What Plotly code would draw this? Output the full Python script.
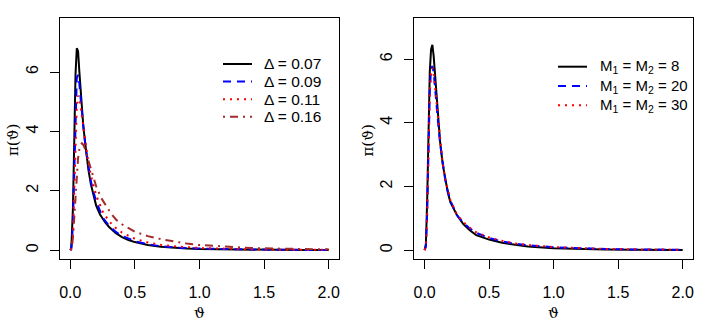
import plotly.graph_objects as go

# ---- data (theta grid and density values) ----
# left panel: different Delta values
theta_a = [0, 0.005, 0.01, 0.015, 0.02, 0.03, 0.04, 0.05, 0.06, 0.07, 0.08, 0.09, 0.10, 0.11, 0.12,
           0.14, 0.16, 0.18, 0.20, 0.23, 0.27, 0.30, 0.35, 0.40, 0.45, 0.50, 0.60, 0.70, 0.80, 0.90,
           1.0, 1.2, 1.4, 1.6, 1.8, 2.0]
dens_d007 = [0, 0.02, 0.3, 0.8, 1.4, 3.6, 5.9, 6.8, 6.7, 6.0, 5.3, 4.7, 4.2, 3.8, 3.4,
             2.7, 2.2, 1.8, 1.5, 1.2, 0.93, 0.78, 0.58, 0.44, 0.34, 0.27, 0.17, 0.11, 0.075, 0.05,
             0.035, 0.02, 0.012, 0.008, 0.005, 0.003]

theta_b = [0, 0.01, 0.02, 0.03, 0.04, 0.05, 0.06, 0.07, 0.08, 0.09, 0.10, 0.12, 0.14, 0.16, 0.18,
           0.20, 0.25, 0.30, 0.35, 0.40, 0.50, 0.60, 0.70, 0.80, 1.0, 1.2, 1.4, 1.6, 1.8, 2.0]
dens_d009 = [0, 0.1, 0.9, 2.9, 4.9, 5.8, 5.9, 5.6, 5.1, 4.6, 4.2, 3.4, 2.8, 2.3, 1.95,
             1.65, 1.1, 0.82, 0.62, 0.48, 0.3, 0.2, 0.13, 0.09, 0.05, 0.03, 0.018, 0.011, 0.007, 0.005]
dens_d011 = [0, 0.05, 0.5, 1.9, 3.7, 4.8, 5.2, 5.1, 4.8, 4.5, 4.2, 3.5, 2.95, 2.5, 2.15,
             1.85, 1.3, 0.97, 0.75, 0.59, 0.38, 0.26, 0.18, 0.13, 0.07, 0.04, 0.025, 0.016, 0.01, 0.007]

theta_c = [0, 0.01, 0.02, 0.03, 0.04, 0.05, 0.06, 0.07, 0.08, 0.09, 0.10, 0.11, 0.12, 0.14, 0.16,
           0.18, 0.20, 0.24, 0.28, 0.32, 0.36, 0.40, 0.50, 0.60, 0.70, 0.80, 0.90, 1.0, 1.2, 1.4,
           1.6, 1.8, 2.0]
dens_d016 = [0, 0.05, 0.4, 1.1, 1.9, 2.6, 3.1, 3.4, 3.55, 3.6, 3.55, 3.45, 3.3, 3.0, 2.7,
             2.4, 2.15, 1.75, 1.45, 1.2, 1.0, 0.87, 0.62, 0.47, 0.37, 0.29, 0.22, 0.17, 0.11, 0.07,
             0.05, 0.035, 0.025]

# right panel: different M1 = M2
theta_r = theta_b
dens_m8 = [0, 0.2, 1.6, 3.8, 5.6, 6.3, 6.45, 6.1, 5.5, 4.9, 4.3, 3.4, 2.7, 2.2, 1.8,
           1.5, 1.1, 0.82, 0.62, 0.47, 0.33, 0.23, 0.16, 0.11, 0.06, 0.035, 0.02, 0.013, 0.008, 0.005]
dens_m20 = [0, 0.1, 1.2, 3.3, 5.0, 5.7, 5.78, 5.6, 5.2, 4.7, 4.2, 3.35, 2.7, 2.2, 1.85,
            1.55, 1.1, 0.86, 0.68, 0.54, 0.38, 0.27, 0.2, 0.15, 0.09, 0.055, 0.035, 0.022, 0.015, 0.01]
dens_m30 = [0, 0.1, 1.1, 3.2, 4.9, 5.6, 5.72, 5.55, 5.15, 4.65, 4.2, 3.35, 2.72, 2.22, 1.87,
            1.57, 1.12, 0.88, 0.7, 0.56, 0.4, 0.29, 0.21, 0.16, 0.095, 0.06, 0.038, 0.025, 0.017, 0.011]

labels_left = ["Δ = 0.07", "Δ = 0.09", "Δ = 0.11", "Δ = 0.16"]
labels_right = ["M<sub>1</sub> = M<sub>2</sub> = 8", "M<sub>1</sub> = M<sub>2</sub> = 20",
                "M<sub>1</sub> = M<sub>2</sub> = 30"]
x_ticks = [0.0, 0.5, 1.0, 1.5, 2.0]
x_tick_text = ["0.0", "0.5", "1.0", "1.5", "2.0"]
y_ticks = [0, 2, 4, 6]

# ---- styles ----
W, H = 708, 327
styles = [("black", "solid"), ("blue", "8px,6px"), ("red", "2px,5px"), ("#A52A2A", "2px,5px,8px,5px")]

left_series = [(theta_a, dens_d007), (theta_b, dens_d009), (theta_b, dens_d011), (theta_c, dens_d016)]
right_series = [(theta_r, dens_m8), (theta_r, dens_m20), (theta_r, dens_m30)]

fig = go.Figure()
for (xs, ys), (col, dash), name in zip(left_series, styles, labels_left):
    fig.add_trace(go.Scatter(x=xs, y=ys, mode="lines", name=name, xaxis="x", yaxis="y",
                             line=dict(color=col, dash=dash, width=2), showlegend=False))
for (xs, ys), (col, dash), name in zip(right_series, styles, labels_right):
    fig.add_trace(go.Scatter(x=xs, y=ys, mode="lines", name=name, xaxis="x2", yaxis="y2",
                             line=dict(color=col, dash=dash, width=2), showlegend=False))


def px(x):
    return x / W


def py(y):
    return 1 - y / H


tick_font = dict(family="Liberation Sans, Arial, sans-serif", size=16, color="black")
ax_common = dict(showline=True, mirror=True, linecolor="black", linewidth=1, showgrid=False,
                 zeroline=False, ticks="outside", ticklen=9, tickcolor="black", tickwidth=1,
                 tickfont=tick_font, automargin=False)

fig.update_layout(
    width=W, height=H, margin=dict(l=0, r=0, t=0, b=0, autoexpand=False),
    paper_bgcolor="white", plot_bgcolor="white",
    xaxis=dict(domain=[px(60), px(339)], range=[-0.08, 2.08], tickvals=x_ticks, ticktext=x_tick_text,
               anchor="y", ticklabelstandoff=10, **ax_common),
    yaxis=dict(domain=[py(259), py(17.7)], range=[-0.30, 7.83], tickvals=y_ticks, tickangle=-90,
               anchor="x", ticklabelstandoff=6, **ax_common),
    xaxis2=dict(domain=[px(414.3), px(693)], range=[-0.08, 2.08], tickvals=x_ticks, ticktext=x_tick_text,
                anchor="y2", ticklabelstandoff=10, **ax_common),
    yaxis2=dict(domain=[py(259), py(17.7)], range=[-0.28, 7.3], tickvals=y_ticks, tickangle=-90,
                anchor="x2", ticklabelstandoff=6, **ax_common),
)

# axis titles
title_font = dict(family="DejaVu Serif, serif", size=15, color="black")
for cx in (199, 553.5):
    fig.add_annotation(x=px(cx), y=py(313), xref="paper", yref="paper", text="ϑ",
                       xanchor="center", yanchor="middle", showarrow=False, font=title_font)
for cx in (13, 367.5):
    fig.add_annotation(x=px(cx), y=py(140), xref="paper", yref="paper", text="π(ϑ)",
                       xanchor="center", yanchor="middle", textangle=-90, showarrow=False,
                       font=title_font)

# hand-placed legends, R style (no box)


def draw_legend(names, x0, x1, xt, y0, step, size):
    font = dict(family="Liberation Sans, Arial, sans-serif", size=size, color="black")
    for i, (name, (col, dash)) in enumerate(zip(names, styles)):
        yy = y0 + i * step
        fig.add_shape(type="line", xref="paper", yref="paper", x0=px(x0), x1=px(x1),
                      y0=py(yy), y1=py(yy), line=dict(color=col, dash=dash, width=2))
        fig.add_annotation(x=px(xt), y=py(yy), xref="paper", yref="paper", text=name,
                           xanchor="left", yanchor="middle", showarrow=False, font=font)


draw_legend(labels_left, 223, 252, 262, 64, 17.6, 15.5)
draw_legend(labels_right, 558, 587, 598, 66.7, 19.3, 15)

fig.write_html("out.html", config={"displayModeBar": False},
               post_script="document.body.style.margin='0';")
